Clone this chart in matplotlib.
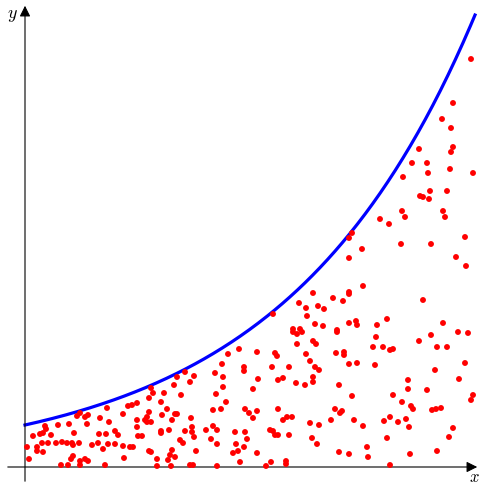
import numpy as np
import matplotlib
matplotlib.use("Agg")
import matplotlib.pyplot as plt

plt.rcParams['mathtext.fontset'] = 'cm'

# curve: y = a * exp(x / b)
a = 42.0
b = 189.4
x_max = 450

# scattered samples under the curve
pts_x = [55, 52, 63, 60, 75, 82, 103, 107, 112, 98, 112, 112, 33, 44, 20, 21, 18, 15, 8, 26,
         62, 84, 49, 74, 81, 90, 93, 113, 2, 12, 12, 18, 17, 23, 31, 37, 42, 47, 48, 54,
         67, 73, 78, 83, 90, 98, 105, 108, 4, 48, 46, 55, 60, 63, 99, 36, 43, 55, 80,
         160, 169, 165, 152, 149, 126, 128, 139, 156, 124, 136, 142, 124, 137, 150, 152, 147, 166, 122, 120,
         122, 126, 136, 136, 144, 160, 167, 167, 169, 155, 158, 117, 124, 126, 147, 145, 150, 143, 132, 171,
         132, 146, 165, 168, 192, 190, 198, 198, 191, 201, 188, 196, 181, 188, 192, 186, 192, 210, 220, 222,
         211, 219, 213, 208, 215, 232, 219, 228, 233, 220, 224, 228, 232,
         268, 272, 277, 272, 288, 291, 312, 250, 252, 281, 285, 264, 247, 290, 294, 253, 258, 271, 280, 288,
         288, 311, 319, 319, 324, 332, 348, 351, 350, 314, 327, 253, 258, 262, 267, 285, 294, 310, 317, 315,
         306, 329, 338, 245, 248, 250, 253, 264, 287, 292, 314, 324, 342, 343, 246, 241, 261, 261,
         398, 362, 418, 433, 443, 406, 394, 358, 365, 368, 412, 422, 440, 410, 434, 383, 383, 402, 368, 448,
         446, 377, 386, 388, 407, 411, 416, 359, 365, 373, 381, 384, 428, 424, 362, 385, 412, 365,
         203, 214, 232, 197, 219,
         327, 324, 337, 324, 338, 324, 324, 288, 308, 318, 274, 281, 293, 299, 282, 248, 290, 298, 324, 331,
         332, 352, 268, 275, 312,
         405, 422, 395, 398, 404, 377, 380, 418, 420, 355, 364, 376, 406, 440, 431, 441,
         446, 428, 417, 426, 394, 428, 426, 387, 402, 403, 425, 378, 448]
pts_y = [54, 51, 52, 50, 49, 59, 61, 62, 64, 53, 47, 40, 42, 43, 41, 38, 34, 33, 31, 32,
         43, 45, 34, 33, 33, 36, 32, 31, 20, 20, 16, 15, 24, 24, 24, 25, 24, 24, 22, 24,
         22, 24, 18, 23, 23, 21, 20, 20, 8, 11, 8, 6, 8, 6, 9, 2, 2, 2, 2,
         95, 91, 85, 90, 82, 79, 74, 74, 72, 69, 65, 58, 55, 52, 53, 53, 47, 49, 50, 47,
         45, 45, 36, 34, 37, 36, 40, 35, 30, 27, 24, 31, 16, 15, 17, 12, 10, 7, 8, 16,
         1, 1, 2, 2, 1, 94, 90, 80, 73, 65, 57, 58, 37, 41, 37, 28, 23, 35, 35, 28,
         23, 20, 16, 14, 5, 14, 96, 78, 88, 58, 54, 49, 56,
         135, 133, 135, 123, 126, 123, 135, 114, 111, 113, 106, 100, 100, 100, 97, 87, 89, 84, 82, 90,
         85, 114, 115, 112, 103, 104, 120, 130, 102, 82, 71, 58, 47, 50, 50, 44, 42, 58, 56, 54,
         47, 47, 41, 37, 36, 32, 32, 32, 29, 23, 15, 13, 20, 10, 5, 1, 6, 3,
         167, 148, 144, 135, 134, 132, 126, 120, 117, 118, 120, 120, 104, 97, 88, 87, 78, 77, 72, 72,
         67, 65, 61, 58, 57, 58, 59, 46, 50, 45, 48, 40, 39, 30, 29, 13, 16, 2,
         113, 118, 115, 103, 100,
         234, 229, 218, 209, 181, 175, 173, 174, 169, 166, 164, 159, 161, 158, 151, 153, 143, 141, 144, 146,
         142, 142, 138, 138, 137,
         276, 276, 271, 270, 268, 256, 250, 256, 250, 248, 243, 223, 223, 230, 210, 201,
         408, 364, 348, 339, 318, 320, 315, 304, 304, 294, 298, 290, 294]

fig = plt.figure(figsize=(4.8, 4.84), dpi=100)
ax = fig.add_axes([0, 0, 1, 1])
ax.set_xlim(-25, 455)
ax.set_ylim(-17, 467)
ax.axis('off')

# axes with arrow heads
ax.annotate('', xy=(455, 0), xytext=(-20, 0),
            arrowprops=dict(arrowstyle='-|>', color='black', lw=0.8, mutation_scale=16))
ax.annotate('', xy=(0, 464), xytext=(0, -17),
            arrowprops=dict(arrowstyle='-|>', color='black', lw=0.8, mutation_scale=16))
ax.text(-13, 452, '$y$', fontsize=13, ha='center', va='center')
ax.text(449, -9.5, '$x$', fontsize=12, ha='center', va='center')

xs = np.linspace(0, x_max, 300)
ax.plot(xs, a * np.exp(xs / b), color='#0000ff', lw=2.3, zorder=2)
ax.scatter(pts_x, pts_y, s=18, color='#ff0000', edgecolors='none', zorder=3)

fig.savefig('out.png', dpi=100)
